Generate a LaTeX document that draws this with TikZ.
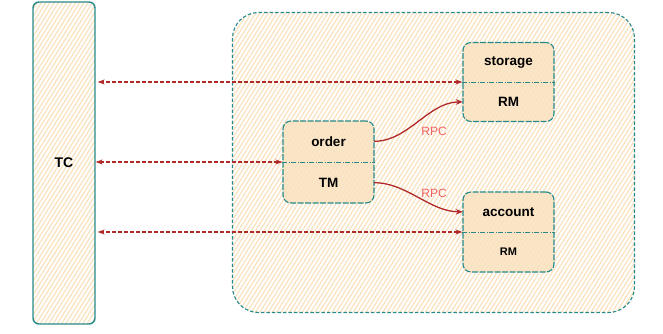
\documentclass[tikz,border=0pt]{standalone}
\usepackage{fontspec}
\setmainfont{Liberation Sans}
\usetikzlibrary{arrows.meta,patterns.meta,calc}
\definecolor{tealc}{RGB}{38,138,138}
\definecolor{hatch}{RGB}{250,226,192}
\definecolor{boxfill}{RGB}{250,230,200}
\definecolor{arrred}{RGB}{176,42,42}
\definecolor{rpcred}{RGB}{238,98,98}
\tikzset{
  hatched/.style={pattern={Lines[angle=58,distance=3.6pt,line width=1.3pt]},pattern color=hatch},
  tcbox/.style={draw=tealc,line width=1.4pt,rounded corners=6pt,hatched,minimum width=62pt,minimum height=322pt,inner sep=0pt,font=\bfseries\fontsize{14}{16}\selectfont},
  groupbox/.style={draw=tealc,line width=1.1pt,dash pattern=on 3.5pt off 2pt,rounded corners=26pt,hatched,minimum width=402pt,minimum height=300pt,inner sep=0pt},
  comp/.style={draw=tealc,line width=1.1pt,dash pattern=on 6pt off 1.5pt,rounded corners=8pt,preaction={fill=boxfill},hatched,minimum width=91pt,inner sep=0pt},
  half/.style={minimum width=91pt,minimum height=39.5pt,inner sep=0pt,font=\bfseries\fontsize{13.5}{15}\selectfont},
  divider/.style={draw=tealc,line width=0.9pt,dash pattern=on 5pt off 1.5pt on 1pt off 1.5pt},
  tcarrow/.style={draw=arrred,line width=1.3pt,dash pattern=on 4pt off 2pt,{Stealth[length=7pt,width=5pt]}-{Stealth[length=7pt,width=5pt]}},
  rpcarrow/.style={draw=arrred,line width=1.3pt,-{Stealth[length=7pt,width=5.5pt]}},
  rpclabel/.style={text=rpcred,font=\fontsize{12}{14}\selectfont,inner sep=0pt}
}
\begin{document}
\begin{tikzpicture}[x=1pt,y=-1pt]
\useasboundingbox (0,0) rectangle (663,334);
% TC
\node[tcbox] (TC) at (64,163) {TC};
% group
\node[groupbox] (group) at (433.5,162.5) {};
% storage
\node[comp,minimum height=79pt] (storage) at (508.5,82) {};
\node[half,anchor=south] (stA) at (storage.center) {storage};
\node[half,anchor=north] (stB) at (storage.center) {RM};
\draw[divider] (storage.west) -- (storage.east);
% order
\node[comp,minimum height=82pt] (order) at (328.5,162) {};
\node[half,anchor=south,minimum height=41pt] (orA) at (order.center) {order};
\node[half,anchor=north,minimum height=41pt] (orB) at (order.center) {TM};
\draw[divider] (order.west) -- (order.east);
% account
\node[comp,minimum height=80pt] (account) at (508.5,232) {};
\node[half,anchor=south,minimum height=40pt] (acA) at (account.center) {account};
\node[half,anchor=north,minimum height=40pt,font=\bfseries\fontsize{11}{13}\selectfont] (acB) at (account.center) {RM};
\draw[divider] (account.west) -- (account.east);
% TC arrows
\draw[tcarrow] (storage.west) -- ($(storage.west -| TC.east)+(2,0)$);
\draw[tcarrow] (order.west) -- (order.west -| TC.east);
\draw[tcarrow] (account.west) -- ($(account.west -| TC.east)+(2,0)$);
% RPC
\draw[rpcarrow] (orA.east) to[out=0,in=180,looseness=0.9] (stB.west);
\node[rpclabel] (rpc1) at (434,131) {RPC};
\draw[rpcarrow] (orB.east) to[out=0,in=180,looseness=0.9] (acA.west);
\node[rpclabel] (rpc2) at (434,193) {RPC};
\end{tikzpicture}
\end{document}
